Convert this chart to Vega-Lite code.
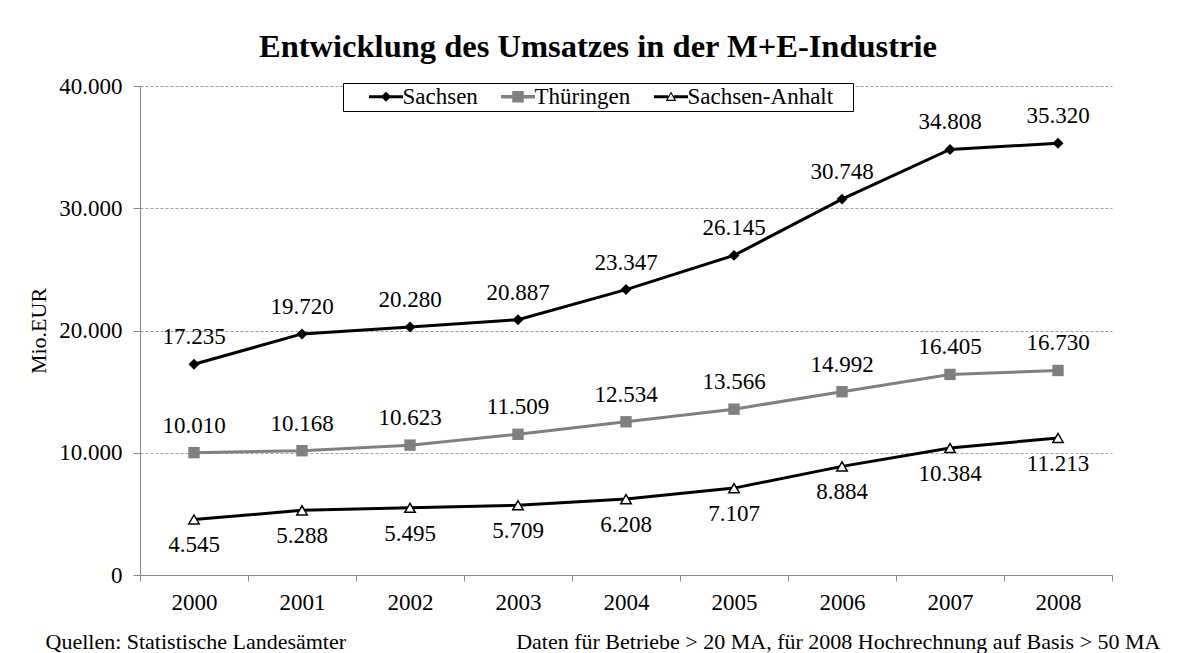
{
  "$schema": "https://vega.github.io/schema/vega-lite/v6.json",
  "width": 972,
  "height": 489,
  "autosize": {"type": "none"},
  "padding": {"left": 140, "top": 86, "right": 77, "bottom": 78},
  "background": "white",
  "config": {
    "locale": {"number": {"decimal": ",", "thousands": ".", "grouping": [3], "currency": ["", " €"]}},
    "font": "Liberation Serif",
    "view": {"stroke": null},
    "axis": {"labelFont": "Liberation Serif", "titleFont": "Liberation Serif", "labelColor": "black", "titleColor": "black", "labelFontSize": 23, "titleFontSize": 22, "titleFontWeight": "normal"}
  },
  "title": {"text": "Entwicklung des Umsatzes in der M+E-Industrie", "font": "Liberation Serif", "fontSize": 32.5, "fontWeight": "bold", "color": "black", "anchor": "middle", "dx": -28, "offset": 12},
  "data": {"values": [
    {"year": 2000, "series": "Sachsen", "value": 17235},
    {"year": 2001, "series": "Sachsen", "value": 19720},
    {"year": 2002, "series": "Sachsen", "value": 20280},
    {"year": 2003, "series": "Sachsen", "value": 20887},
    {"year": 2004, "series": "Sachsen", "value": 23347},
    {"year": 2005, "series": "Sachsen", "value": 26145},
    {"year": 2006, "series": "Sachsen", "value": 30748},
    {"year": 2007, "series": "Sachsen", "value": 34808},
    {"year": 2008, "series": "Sachsen", "value": 35320},
    {"year": 2000, "series": "Thüringen", "value": 10010},
    {"year": 2001, "series": "Thüringen", "value": 10168},
    {"year": 2002, "series": "Thüringen", "value": 10623},
    {"year": 2003, "series": "Thüringen", "value": 11509},
    {"year": 2004, "series": "Thüringen", "value": 12534},
    {"year": 2005, "series": "Thüringen", "value": 13566},
    {"year": 2006, "series": "Thüringen", "value": 14992},
    {"year": 2007, "series": "Thüringen", "value": 16405},
    {"year": 2008, "series": "Thüringen", "value": 16730},
    {"year": 2000, "series": "Sachsen-Anhalt", "value": 4545},
    {"year": 2001, "series": "Sachsen-Anhalt", "value": 5288},
    {"year": 2002, "series": "Sachsen-Anhalt", "value": 5495},
    {"year": 2003, "series": "Sachsen-Anhalt", "value": 5709},
    {"year": 2004, "series": "Sachsen-Anhalt", "value": 6208},
    {"year": 2005, "series": "Sachsen-Anhalt", "value": 7107},
    {"year": 2006, "series": "Sachsen-Anhalt", "value": 8884},
    {"year": 2007, "series": "Sachsen-Anhalt", "value": 10384},
    {"year": 2008, "series": "Sachsen-Anhalt", "value": 11213}
  ]},
  "encoding": {
    "y": {
      "field": "value", "type": "quantitative",
      "scale": {"domain": [0, 40000], "nice": false, "zero": true},
      "axis": {
        "values": [0, 10000, 20000, 30000, 40000], "format": ",d",
        "title": "Mio.EUR", "grid": true, "gridColor": "#a0a0a0", "gridDash": [3, 2], "gridWidth": 1,
        "domainColor": "#868686", "tickColor": "#868686", "tickSize": 7, "labelPadding": 11, "titlePadding": 8
      }
    }
  },
  "layer": [
    {
      "mark": {"type": "line", "strokeWidth": 3},
      "encoding": {
        "x": {
          "field": "year", "type": "quantitative",
          "scale": {"domain": [1999.5, 2008.5], "nice": false, "zero": false},
          "axis": {
            "values": [1999.5, 2000.5, 2001.5, 2002.5, 2003.5, 2004.5, 2005.5, 2006.5, 2007.5, 2008.5],
            "labels": false, "ticks": true, "tickSize": 6, "tickColor": "#868686", "domainColor": "#868686", "grid": false,
            "title": "Quellen: Statistische Landesämter", "titleAnchor": "start", "titleAlign": "left",
            "titleX": -95, "titleY": 73, "titleBaseline": "alphabetic"
          }
        },
        "color": {
          "field": "series", "type": "nominal",
          "scale": {"domain": ["Sachsen", "Thüringen", "Sachsen-Anhalt"], "range": ["#000000", "#808080", "#000000"]},
          "legend": {
            "orient": "none", "legendX": 203, "legendY": -3, "direction": "horizontal",
            "title": "M", "titleOrient": "left", "titleColor": "#ffffff", "titleFontSize": 10, "titlePadding": 0, "titleFont": "Liberation Serif",
            "fillColor": "white", "strokeColor": "black", "padding": 2, "columnPadding": 9,
            "labelFont": "Liberation Serif", "labelFontSize": 23, "labelColor": "black", "labelLimit": 400,
            "symbolSize": 289, "symbolStrokeWidth": 0, "symbolOffset": 19.5, "labelOffset": 5,
            "labelExpr": "datum.label === 'Sachsen-Anhalt' ? datum.label + '\u00a0\u00a0\u00a0\u200b' : datum.label",
            "encode": {
              "symbols": {
                "update": {
                  "shape": {"signal": "datum.value === 'Sachsen' ? 'M-2,-0.18L2,-0.18L2,0.18L-2,0.18Z M-0.62,0L0,-0.6L0.62,0L0,0.6Z' : datum.value === 'Thüringen' ? 'M-2,-0.2L2,-0.2L2,0.2L-2,0.2Z M-0.68,-0.68L0.68,-0.68L0.68,0.68L-0.68,0.68Z' : 'M-2,-0.18L-0.34,-0.18L-0.34,0.18L-2,0.18Z M0.34,-0.18L2,-0.18L2,0.18L0.34,0.18Z M0,-0.62L0.62,0.5L-0.62,0.5Z M0,-0.34L-0.4,0.34L0.4,0.34Z'"},
                  "fill": {"signal": "datum.value === 'Thüringen' ? '#808080' : '#000000'"},
                  "stroke": {"value": "transparent"},
                  "strokeWidth": {"value": 0},
                  "opacity": {"value": 1}
                }
              }
            }
          }
        }
      }
    },
    {
      "transform": [{"filter": "datum.series === 'Sachsen'"}],
      "mark": {"type": "point", "shape": "diamond", "filled": true, "fill": "#000000", "size": 120, "opacity": 1, "strokeWidth": 0},
      "encoding": {
        "x": {
          "field": "year", "type": "quantitative",
          "scale": {"domain": [1999.5, 2008.5], "nice": false, "zero": false},
          "axis": {
            "orient": "bottom", "values": [2000, 2001, 2002, 2003, 2004, 2005, 2006, 2007, 2008], "format": "d",
            "ticks": false, "domain": false, "grid": false, "labelPadding": 16,
            "title": "Daten für Betriebe > 20 MA, für 2008 Hochrechnung auf Basis > 50 MA",
            "titleAnchor": "end", "titleAlign": "right", "titleX": 1020, "titleY": 73, "titleBaseline": "alphabetic"
          }
        }
      }
    },
    {
      "transform": [{"filter": "datum.series === 'Thüringen'"}],
      "mark": {"type": "point", "shape": "square", "filled": true, "fill": "#808080", "size": 130, "opacity": 1, "strokeWidth": 0},
      "encoding": {
        "x": {"field": "year", "type": "quantitative", "scale": {"domain": [1999.5, 2008.5], "nice": false, "zero": false}, "axis": null}
      }
    },
    {
      "transform": [{"filter": "datum.series === 'Sachsen-Anhalt'"}],
      "mark": {"type": "point", "shape": "triangle-up", "filled": true, "fill": "#ffffff", "stroke": "#000000", "strokeWidth": 1.5, "size": 110, "opacity": 1},
      "encoding": {
        "x": {"field": "year", "type": "quantitative", "scale": {"domain": [1999.5, 2008.5], "nice": false, "zero": false}, "axis": null}
      }
    },
    {
      "transform": [{"filter": "datum.series !== 'Sachsen-Anhalt'"}],
      "mark": {"type": "text", "font": "Liberation Serif", "fontSize": 23, "color": "#000000", "baseline": "middle", "dy": -27},
      "encoding": {
        "x": {"field": "year", "type": "quantitative", "scale": {"domain": [1999.5, 2008.5], "nice": false, "zero": false}, "axis": null},
        "text": {"field": "value", "type": "quantitative", "format": ",.0f"}
      }
    },
    {
      "transform": [{"filter": "datum.series === 'Sachsen-Anhalt'"}],
      "mark": {"type": "text", "font": "Liberation Serif", "fontSize": 23, "color": "#000000", "baseline": "middle", "dy": 26},
      "encoding": {
        "x": {"field": "year", "type": "quantitative", "scale": {"domain": [1999.5, 2008.5], "nice": false, "zero": false}, "axis": null},
        "text": {"field": "value", "type": "quantitative", "format": ",.0f"}
      }
    }
  ],
  "resolve": {"axis": {"x": "independent"}}
}
